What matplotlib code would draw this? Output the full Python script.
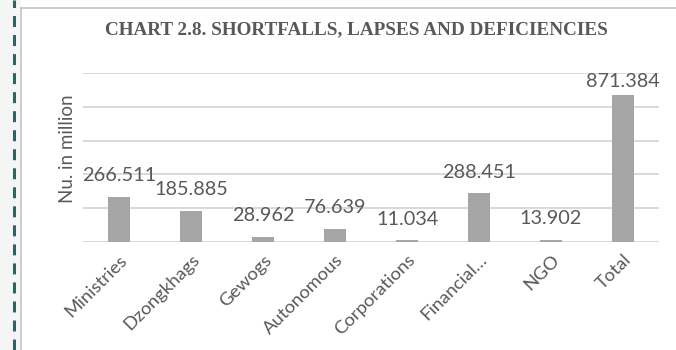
import matplotlib
matplotlib.use("Agg")
import matplotlib.pyplot as plt
from matplotlib.lines import Line2D

categories = ["Ministries", "Dzongkhags", "Gewogs", "Autonomous", "Corporations",
              "Financial…", "NGO", "Total"]
values = [266.511, 185.885, 28.962, 76.639, 11.034, 288.451, 13.902, 871.384]
value_labels = ["266.511", "185.885", "28.962", "76.639", "11.034", "288.451",
                "13.902", "871.384"]

TEXT = "#595959"
W, H = 676, 350

plt.rcParams["lines.scale_dashes"] = False
fig = plt.figure(figsize=(W / 100, H / 100), dpi=100)

# page background strip + chart frame
fig.patches.append(plt.Rectangle((0, 0), 20 / W, 1, transform=fig.transFigure,
                                 color="#f4f6f6", zorder=0))
fig.add_artist(Line2D([13.5 / W, 13.5 / W], [0, 1], transform=fig.transFigure,
                      color="#276666", lw=2.2, dashes=(7.9, 5.8)))
fig.add_artist(Line2D([20.5 / W, 20.5 / W], [0, 1 - 7.5 / H], transform=fig.transFigure,
                      color="#c4c4c4", lw=1.2))
fig.add_artist(Line2D([20.5 / W, 1], [1 - 7.5 / H, 1 - 7.5 / H], transform=fig.transFigure,
                      color="#c4c4c4", lw=1.2))

ax = fig.add_axes([83 / W, (H - 242) / H, 576 / W, 169 / H])
x = list(range(len(categories)))
ax.bar(x, values, width=0.3, color="#a5a5a5", zorder=3)
ax.set_xlim(-0.5, len(categories) - 0.5)
ax.set_ylim(0, 1000)
ax.set_yticks(range(0, 1001, 200))
ax.set_yticklabels([])
ax.tick_params(axis="both", length=0)
ax.grid(axis="y", color="#d9d9d9", lw=1.4, zorder=0)
for s in ax.spines.values():
    s.set_visible(False)

ax.set_xticks(x)
ax.set_xticklabels(categories, rotation=45, ha="right", rotation_mode="anchor",
                   family="Lato", fontsize=13.3, color=TEXT)
ax.tick_params(axis="x", pad=7)

for xi, v, lab in zip(x, values, value_labels):
    ax.text(xi, min(v + 125, 948), lab, ha="center", va="center",
            family="Lato", fontsize=14.3, color=TEXT, zorder=4)

ax.set_ylabel("Nu. in million", family="Lato", fontsize=13.5, color=TEXT)
ax.yaxis.set_label_coords(-0.012, 0.55)

fig.text(356 / W, 1 - 30 / H, "CHART 2.8. SHORTFALLS, LAPSES AND DEFICIENCIES",
         ha="center", va="center", family="Liberation Serif", weight="bold",
         fontsize=13.8, color=TEXT)

fig.savefig("out.png", dpi=100)
